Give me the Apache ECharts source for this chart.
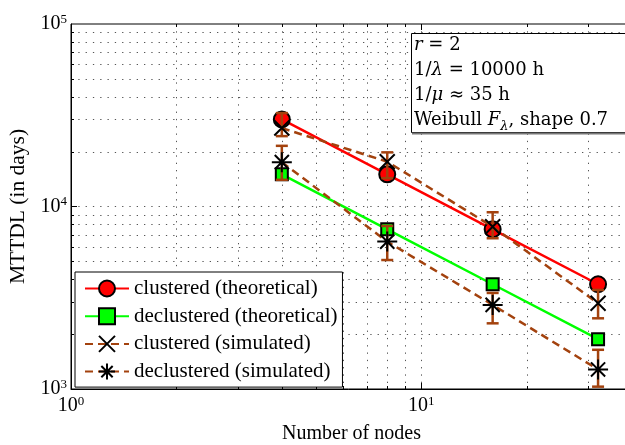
<!DOCTYPE html>
<html><head><meta charset="utf-8">
<script src="https://cdn.jsdelivr.net/npm/echarts@6/dist/echarts.min.js"></script>
<style>html,body{margin:0;padding:0;background:#fff}#c{width:625px;height:445px}</style>
</head><body><div id="c"></div>
<script>
// ---- data ----
const nodes = [4, 8, 16, 32];
const clusteredTheoretical = [30000, 15000, 7500, 3750];
const declusteredTheoretical = [15000, 7500, 3750, 1875];
const clusteredSimulated = [26900, 17600, 7750, 2950];
const clusteredSimLow = [24300, 14300, 6700, 2440];
const clusteredSimHigh = [32500, 19800, 9300, 3490];
const declusteredSimulated = [17500, 6420, 2890, 1280];
const declusteredSimLow = [14000, 5090, 2290, 1030];
const declusteredSimHigh = [21500, 7820, 3360, 1640];
const seriesNames = ['clustered (theoretical)', 'declustered (theoretical)', 'clustered (simulated)', 'declustered (simulated)'];
const xMajorTicks = [1, 10];
const yMajorTicks = [1000, 10000, 100000];
const xMinorTicks = [2, 3, 4, 5, 6, 7, 8, 9, 20, 30];
const yMinorTicks = [2000, 3000, 4000, 5000, 6000, 7000, 8000, 9000, 20000, 30000, 40000, 50000, 60000, 70000, 80000, 90000];
const xRange = [1, 40];
const yRange = [1000, 100000];

const FONT = 'Liberation Serif';
const BOXFONT = 'DejaVu Serif';
const BROWN = '#a3420e';

const chart = echarts.init(document.getElementById('c'), null, {renderer: 'canvas'});

function powLabel(v) {
  const e = Math.log10(v);
  if (Math.abs(e - Math.round(e)) > 1e-6) return '';
  return '{b|10}{s|' + Math.round(e) + '}';
}
const labelRich = {
  b: {fontFamily: FONT, fontSize: 20, lineHeight: 22, color: '#000'},
  s: {fontFamily: FONT, fontSize: 13, lineHeight: 10, verticalAlign: 'top', color: '#000'}
};

function gridRender(params, api) {
  const cs = params.coordSys;
  const top = cs.y, bottom = cs.y + cs.height, left = cs.x, right = cs.x + cs.width;
  const ch = [];
  const dot = {stroke: '#555', lineWidth: 1, lineDash: [1.3, 6]};
  const tick = {stroke: '#000', lineWidth: 1};
  const addX = (v, len) => {
    const px = Math.round(api.coord([v, yRange[0]])[0]) + 0.5;
    ch.push({type: 'line', shape: {x1: px, y1: top, x2: px, y2: bottom}, style: dot});
    ch.push({type: 'line', shape: {x1: px, y1: bottom, x2: px, y2: bottom - len}, style: tick});
    ch.push({type: 'line', shape: {x1: px, y1: top, x2: px, y2: top + len}, style: tick});
  };
  const addY = (v, len) => {
    const py = Math.round(api.coord([xRange[0], v])[1]) + 0.5;
    ch.push({type: 'line', shape: {x1: left, y1: py, x2: right, y2: py}, style: dot});
    ch.push({type: 'line', shape: {x1: left, y1: py, x2: left + len, y2: py}, style: tick});
  };
  xMinorTicks.forEach(v => addX(v, 3));
  xMajorTicks.filter(v => v > xRange[0]).forEach(v => addX(v, 6));
  yMinorTicks.forEach(v => addY(v, 3));
  yMajorTicks.filter(v => v > yRange[0] && v < yRange[1]).forEach(v => addY(v, 6));
  return {type: 'group', children: ch};
}

function errRender(params, api) {
  const x = api.value(0);
  const lo = api.coord([x, api.value(1)]);
  const hi = api.coord([x, api.value(2)]);
  const hw = 6;
  const st = {stroke: BROWN, lineWidth: 2.5};
  return {type: 'group', children: [
    {type: 'line', shape: {x1: lo[0], y1: lo[1], x2: hi[0], y2: hi[1]}, style: st},
    {type: 'line', shape: {x1: lo[0] - hw, y1: lo[1], x2: lo[0] + hw, y2: lo[1]}, style: st},
    {type: 'line', shape: {x1: hi[0] - hw, y1: hi[1], x2: hi[0] + hw, y2: hi[1]}, style: st}
  ]};
}

const pts = arr => nodes.map((n, i) => [n, arr[i]]);
const X_PATH = 'path://M0,0L10,10M10,0L0,10';
const STAR_PATH = 'path://M5,0L5,10M0,5L10,5M1.46,1.46L8.54,8.54M8.54,1.46L1.46,8.54';

const option = {
  animation: false,
  backgroundColor: '#fff',
  grid: {left: 71, top: 24, width: 561, height: 365, outerBoundsMode: 'none', containLabel: false,
    show: true, borderColor: '#000', borderWidth: 1, backgroundColor: 'transparent'},
  xAxis: {
    type: 'log', logBase: 10, min: xRange[0], max: xRange[1],
    name: 'Number of nodes', nameLocation: 'middle', nameGap: 35,
    nameTextStyle: {fontFamily: FONT, fontSize: 20, color: '#000'},
    axisLine: {lineStyle: {color: '#000', width: 1}},
    axisTick: {show: false}, splitLine: {show: false}, minorTick: {show: false},
    axisLabel: {formatter: powLabel, rich: labelRich, margin: 6, showMinLabel: true, showMaxLabel: true}
  },
  yAxis: {
    type: 'log', logBase: 10, min: yRange[0], max: yRange[1],
    name: 'MTTDL (in days)', nameLocation: 'middle', nameGap: 34,
    nameTextStyle: {fontFamily: FONT, fontSize: 21.5, color: '#000'},
    axisLine: {lineStyle: {color: '#000', width: 1}},
    axisTick: {show: false}, splitLine: {show: false}, minorTick: {show: false},
    axisLabel: {formatter: powLabel, rich: labelRich, margin: 4, showMinLabel: true, showMaxLabel: true}
  },
  legend: {
    data: seriesNames,
    orient: 'vertical', left: 75, top: 272,
    itemWidth: 44, itemHeight: 20, itemGap: 6.7,
    padding: [6, 5, 5, 9],
    backgroundColor: '#fff', borderColor: '#000', borderWidth: 1,
    textStyle: {fontFamily: FONT, fontSize: 21, color: '#000', lineHeight: 20},
    selectedMode: false, z: 10
  },
  graphic: [
    {type: 'rect', z: 100, shape: {x: 411.5, y: 33.5, width: 240, height: 99}, style: {fill: '#fff', stroke: '#000', lineWidth: 1}},
    {type: 'line', z: 100, shape: {x1: 412, y1: 133.5, x2: 650, y2: 133.5}, style: {stroke: '#777', lineWidth: 2}},
    {type: 'text', z: 101, x: 414, y: 33, style: {
      text: '{i|r} = 2\n1/{i|λ} = 10000 h\n1/{i|μ} ≈ 35 h\nWeibull {i|F}{sub|λ}, shape 0.7',
      fontFamily: BOXFONT, fontSize: 18, lineHeight: 25, fill: '#000',
      rich: {
        i: {fontFamily: BOXFONT, fontSize: 18, fontStyle: 'italic', lineHeight: 25},
        sub: {fontFamily: BOXFONT, fontSize: 13, fontStyle: 'italic', lineHeight: 14, verticalAlign: 'bottom'}
      }
    }}
  ],
  series: [
    {type: 'custom', name: 'grid', coordinateSystem: 'cartesian2d', data: [[xRange[0], yRange[0]]], renderItem: gridRender, silent: true, z: 1},
    {type: 'line', name: seriesNames[0], data: pts(clusteredTheoretical), symbol: 'circle', symbolSize: 16,
      lineStyle: {color: '#ff0000', width: 2.5}, itemStyle: {color: '#ff0000', borderColor: '#000', borderWidth: 2}, z: 2},
    {type: 'line', name: seriesNames[1], data: pts(declusteredTheoretical), symbol: 'rect', symbolSize: 12,
      lineStyle: {color: '#00ff00', width: 2.5}, itemStyle: {color: '#00ff00', borderColor: '#000', borderWidth: 2}, z: 2},
    {type: 'custom', name: 'err1', coordinateSystem: 'cartesian2d', data: nodes.map((n, i) => [n, clusteredSimLow[i], clusteredSimHigh[i]]),
      encode: {x: 0, y: [1, 2]}, renderItem: errRender, silent: true, z: 3},
    {type: 'custom', name: 'err2', coordinateSystem: 'cartesian2d', data: nodes.map((n, i) => [n, declusteredSimLow[i], declusteredSimHigh[i]]),
      encode: {x: 0, y: [1, 2]}, renderItem: errRender, silent: true, z: 3},
    {type: 'line', name: seriesNames[2], data: pts(clusteredSimulated), symbol: X_PATH, symbolSize: 15,
      lineStyle: {color: BROWN, width: 2.5, type: [8, 5]}, itemStyle: {color: 'rgba(0,0,0,0)', borderColor: '#000', borderWidth: 2}, z: 4},
    {type: 'line', name: seriesNames[3], data: pts(declusteredSimulated), symbol: STAR_PATH, symbolSize: 20,
      lineStyle: {color: BROWN, width: 2.5, type: [8, 5]}, itemStyle: {color: 'rgba(0,0,0,0)', borderColor: '#000', borderWidth: 2}, z: 4}
  ]
};
chart.setOption(option);
</script></body></html>
